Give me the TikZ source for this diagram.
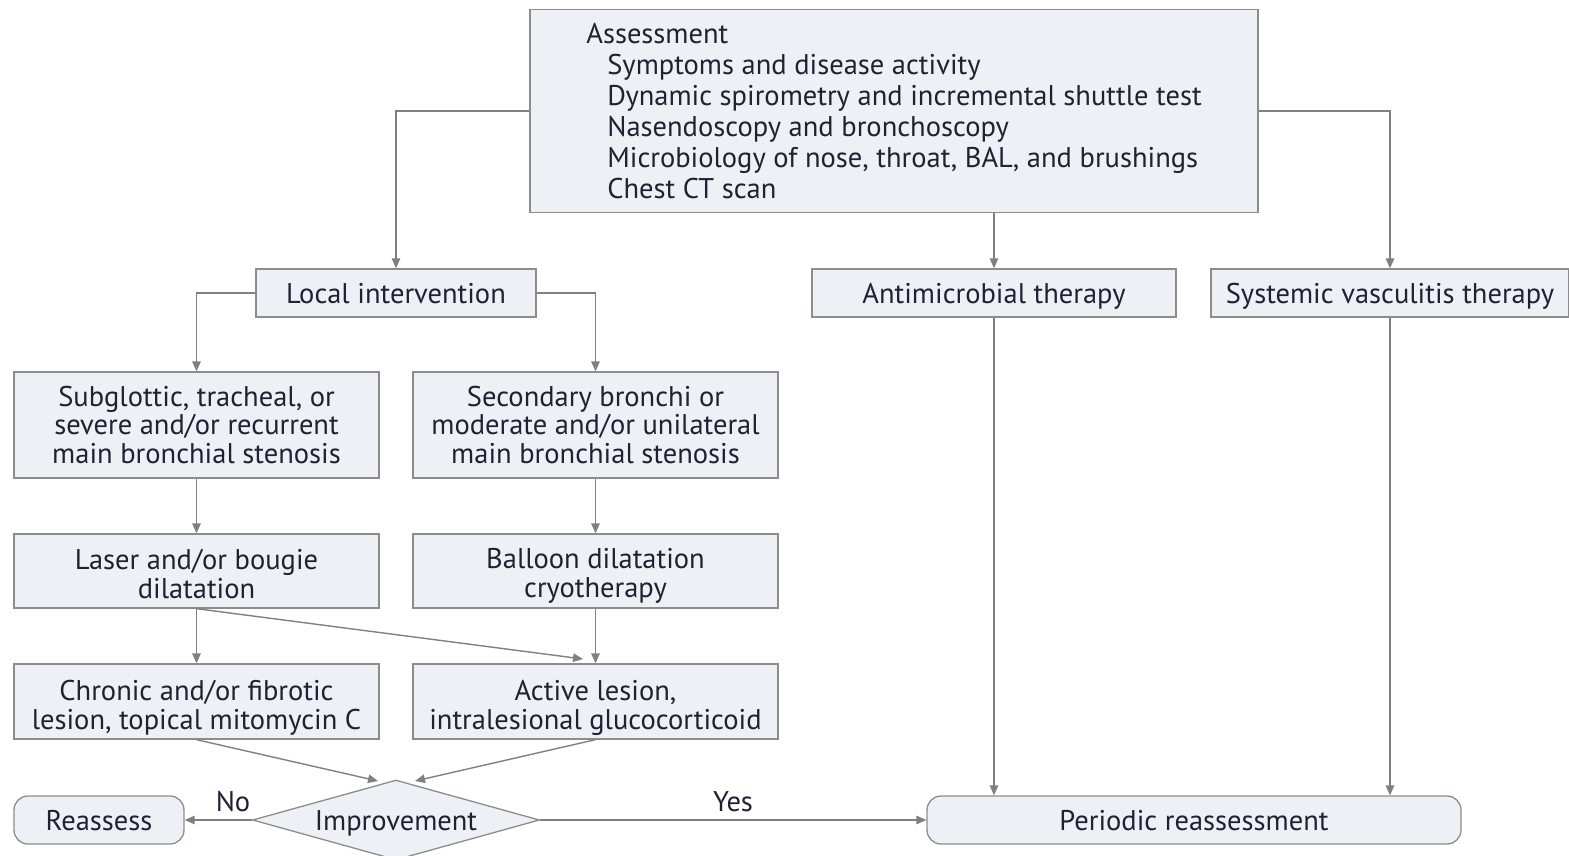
\documentclass[tikz,border=0pt]{standalone}
\usepackage{fontspec}
\setmainfont{PT Sans}
\usetikzlibrary{arrows.meta,shapes.geometric}
\definecolor{boxfill}{HTML}{EDF1F5}
\definecolor{boxline}{HTML}{8C8C8C}
\definecolor{arrowc}{HTML}{808080}
\definecolor{txt}{HTML}{1E2233}
\newcommand{\mystrut}[1]{\rule{0pt}{#1}}
\begin{document}
\begin{tikzpicture}[x=1pt,y=-1pt,
  font=\fontsize{28.5}{28.5}\selectfont, text=txt,
  box/.style={draw=boxline, line width=1.3pt, fill=boxfill, inner sep=0pt, align=center},
  oneline/.style={text height=24pt, text depth=4pt},
  rbox/.style={box, oneline, rounded corners=14pt},
  conn/.style={draw=arrowc, line width=1.4pt, -{Triangle[length=10pt,width=8.5pt]}},
  lab/.style={inner sep=0pt}]
\useasboundingbox (0,0) rectangle (1569,855);
% nodes
\node[box, minimum width=728pt, minimum height=203pt, align=left, font=\fontsize{28.5}{31}\selectfont] (assess) at (894,111)
 {Assessment\\
  \hspace*{21pt}Symptoms and disease activity\\
  \hspace*{21pt}Dynamic spirometry and incremental shuttle test\\
  \hspace*{21pt}Nasendoscopy and bronchoscopy\\
  \hspace*{21pt}Microbiology of nose, throat, BAL, and brushings\\
  \hspace*{21pt}Chest CT scan};
\node[box, oneline, minimum width=280pt, minimum height=48pt] (local) at (396,293) {Local intervention};
\node[box, oneline, minimum width=364pt, minimum height=48pt] (anti) at (994,293) {Antimicrobial therapy};
\node[box, oneline, minimum width=358pt, minimum height=48pt] (sys) at (1390,293) {Systemic vasculitis therapy};
\node[box, minimum width=365pt, minimum height=106pt] (sub) at (196.5,425) {Subglottic, tracheal, or\\severe and/or recurrent\\main bronchial stenosis};
\node[box, minimum width=365pt, minimum height=106pt] (sec) at (595.5,425) {Secondary bronchi or\\moderate and/or unilateral\\main bronchial stenosis};
\node[box, minimum width=365pt, minimum height=74pt] (laser) at (196.5,571) {\mystrut{26pt}Laser and/or bougie\\dilatation};
\node[box, minimum width=365pt, minimum height=74pt] (balloon) at (595.5,571) {\mystrut{30pt}Balloon dilatation\\cryotherapy};
\node[box, minimum width=365pt, minimum height=75pt] (chronic) at (196.5,701.5) {\mystrut{33pt}Chronic and/or fibrotic\\lesion, topical mitomycin C};
\node[box, minimum width=365pt, minimum height=75pt] (active) at (595.5,701.5) {\mystrut{33pt}Active lesion,\\intralesional glucocorticoid};
\node[box, oneline, diamond, aspect=3.6, minimum width=287pt, minimum height=80pt] (imp) at (396,820) {Improvement};
\node[rbox, minimum width=170pt, minimum height=48pt] (reassess) at (99,820) {Reassess};
\node[rbox, minimum width=534pt, minimum height=48pt] (periodic) at (1194,820) {Periodic reassessment};
% helper coordinates
\coordinate (activeIn) at (583,659);
\coordinate (impL) at (378,781);
\coordinate (impR) at (415,781);
% connectors
\draw[conn] (assess.west) -| (local.north);
\draw[conn] (assess.south -| anti.north) -- (anti.north);
\draw[conn] (assess.east) -| (sys.north);
\draw[conn] (local.west) -| (sub.north);
\draw[conn] (local.east) -| (sec.north);
\draw[conn] (sub.south) -- (laser.north);
\draw[conn] (sec.south) -- (balloon.north);
\draw[conn] (laser.south) -- (chronic.north);
\draw[conn] (balloon.south) -- (active.north);
\draw[conn] (laser.south) -- (activeIn);
\draw[conn] (chronic.south) -- (impL);
\draw[conn] (active.south) -- (impR);
\draw[conn] (imp.west) -- (reassess.east);
\draw[conn] (imp.east) -- (periodic.west);
\draw[conn] (anti.south) -- (anti.south |- periodic.north);
\draw[conn] (sys.south) -- (sys.south |- periodic.north);
% labels
\node[lab] (no) at (233,802) {No};
\node[lab] (yes) at (733,802) {Yes};
\end{tikzpicture}
\end{document}
